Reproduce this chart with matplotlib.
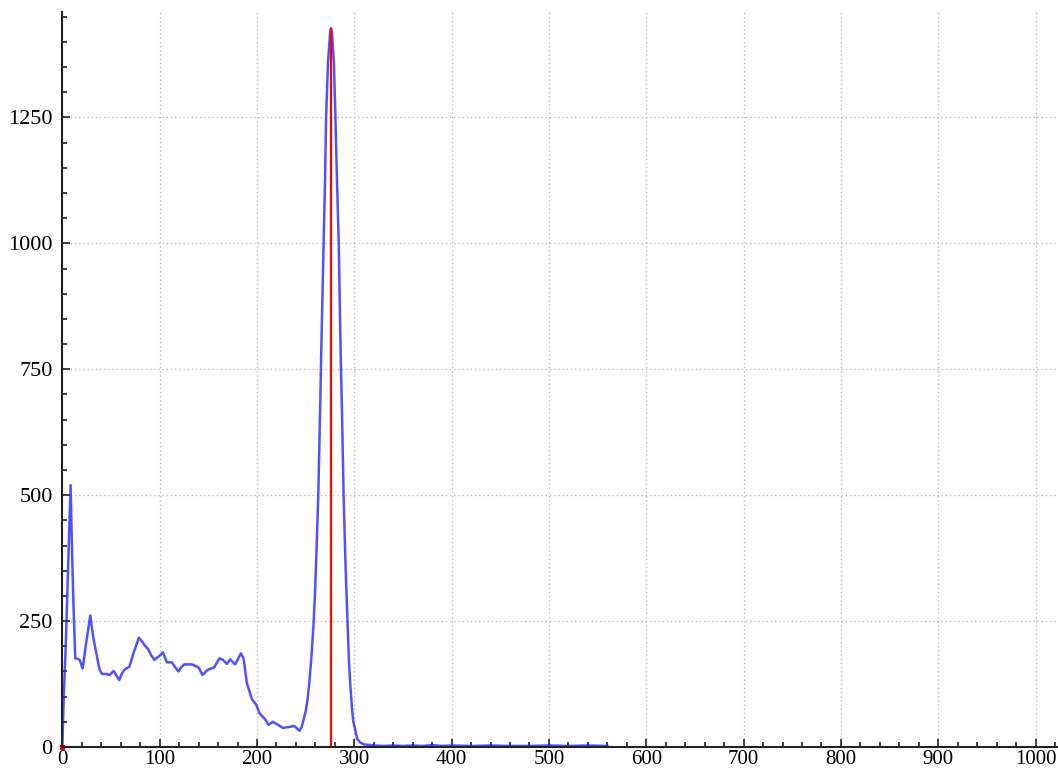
import matplotlib
matplotlib.use("Agg")
import matplotlib.pyplot as plt
from matplotlib.ticker import MultipleLocator

# Kurve (x, Wert)
x_vals = [0, 1.5, 3.5, 6, 8.5, 10, 11.5, 13.3, 16, 17.8, 20.9, 24, 28.7, 32,
          35.6, 38, 40.7, 45, 48.6, 52.7, 55.5, 58.5, 61, 63.7, 69.1, 73.2,
          78.7, 82.8, 85.5, 88.6, 91, 94.5, 99.9, 103.4, 107.5, 112.6, 116,
          119.4, 122, 125.3, 133.2, 140, 144, 149.2, 156, 161.5, 165, 169.1,
          172.5, 177.6, 183.5, 186.2, 189.6, 194.8, 199.2, 202.6, 208.4,
          211.8, 216.3, 221.5, 226.6, 234.1, 238.2, 243.7, 246, 248, 250,
          252, 254, 256, 258, 259.5, 261, 263, 265, 266, 268, 270, 271, 273,
          275, 276, 277, 279, 280.6, 282, 284, 286, 287.5, 289, 291, 293,
          294.5, 296, 297.7, 299, 301, 303, 306, 310, 320, 330, 340, 350,
          360, 370, 380, 390, 400, 420, 440, 460, 480, 500, 520, 540, 560]
y_vals = [0, 100, 200, 360, 520, 390, 280, 176, 175, 173, 156, 200, 261, 215,
          180, 155, 145, 145, 143, 151, 142, 133, 145, 153, 160, 187,
          217, 207, 200, 193, 183, 173, 181, 188, 168, 168, 158,
          150, 158, 164, 164, 158, 143, 153, 158, 176, 173, 165,
          174, 164, 186, 176, 127, 95, 84, 67, 55,
          44, 50, 44, 38, 40, 42, 32, 40, 55, 70,
          95, 133, 180, 240, 300, 380, 500, 680, 780, 960, 1130, 1250, 1360,
          1415, 1427, 1420, 1360, 1250, 1140, 1000, 780, 650, 500, 360, 250,
          170, 120, 74, 50, 34, 16, 9, 5, 3, 2, 3, 2,
          3, 2, 4, 2, 3, 2, 3, 2, 2, 3, 2, 3, 2]

peak_x = 276
peak_y = 1427

plt.rcParams['font.family'] = ['Liberation Serif', 'DejaVu Serif']

fig = plt.figure(figsize=(10.58, 7.72), dpi=100)
ax = fig.add_axes([0.0589, 0.0324, 0.9411, 0.9524])

ax.plot(x_vals, y_vals, color=(0.15, 0.15, 1.0), alpha=0.8, linewidth=1.8,
        zorder=3, solid_joinstyle='round')
ax.vlines(peak_x, 0, peak_y, color='red', linewidth=1.6, zorder=4)
ax.plot([0], [0], marker='s', markersize=2.5, color='red', zorder=5,
        clip_on=False)

ax.set_xlim(0, 1023)
ax.set_ylim(0, 1460)

ax.xaxis.set_major_locator(MultipleLocator(100))
ax.xaxis.set_minor_locator(MultipleLocator(20))
ax.yaxis.set_major_locator(MultipleLocator(250))
ax.yaxis.set_minor_locator(MultipleLocator(50))

ax.tick_params(which='both', direction='in', width=1.2, color='#222222')
ax.tick_params(axis='y', labelsize=16, pad=7)
ax.tick_params(axis='x', labelsize=15, pad=2)
ax.tick_params(which='major', length=6)
ax.tick_params(which='minor', length=3.5)

for s in ['top', 'right']:
    ax.spines[s].set_visible(False)
for s in ['left', 'bottom']:
    ax.spines[s].set_linewidth(1.5)
    ax.spines[s].set_color('#222222')
    ax.spines[s].set_zorder(6)

ax.grid(True, which='major', linestyle=(0, (1, 2)), color='#bbbbbb',
        linewidth=1.0)
ax.set_axisbelow(True)

fig.savefig('out.png', dpi=100)
